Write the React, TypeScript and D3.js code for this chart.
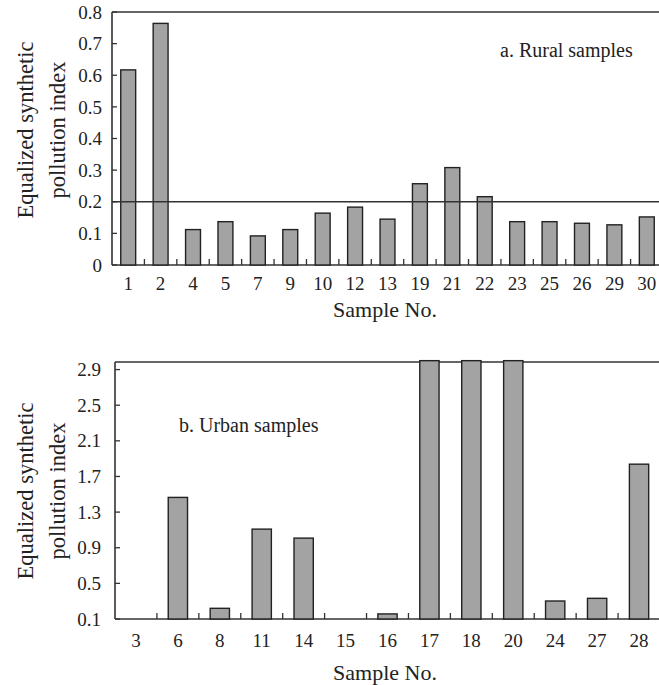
import React, { useEffect, useRef } from "react";
import * as d3 from "d3";

// a. rural samples
const ruralSamples = ["1", "2", "4", "5", "7", "9", "10", "12", "13", "19", "21", "22", "23", "25", "26", "29", "30"];
const ruralValues = [0.617, 0.764, 0.112, 0.137, 0.092, 0.112, 0.164, 0.183, 0.145, 0.257, 0.308, 0.216, 0.137, 0.137, 0.132, 0.127, 0.152];
const ruralTicks = [0, 0.1, 0.2, 0.3, 0.4, 0.5, 0.6, 0.7, 0.8];
const ruralLimit = 0.2;

// b. urban samples (17, 18, 20 run off the top of the scale)
const urbanSamples = ["3", "6", "8", "11", "14", "15", "16", "17", "18", "20", "24", "27", "28"];
const urbanValues = [0.1, 1.465, 0.22, 1.109, 1.008, 0.1, 0.157, 3.0, 3.0, 3.0, 0.302, 0.332, 1.838];
const urbanTicks = [0.1, 0.5, 0.9, 1.3, 1.7, 2.1, 2.5, 2.9];

const FONT = "'Liberation Serif', Tinos, 'Times New Roman', 'DejaVu Serif', serif";
const INK = "#222";

function BarPanel({
  samples,
  values,
  ticks,
  yDomain,
  box,
  limit,
  note,
  tickFormat,
  yLabelGap,
  xTickY,
  xTitleY,
  yTitleY,
}) {
  const gRef = useRef(null);

  useEffect(() => {
    const g = d3.select(gRef.current);
    g.selectAll("*").remove();

    const x = d3
      .scaleBand()
      .domain(samples)
      .range([box.left, box.right])
      .paddingInner(0.54)
      .paddingOuter(0.27);

    const y = d3
      .scaleLinear()
      .domain(yDomain)
      .range([box.bottom, box.top]);

    const rows = samples.map((s, i) => ({ s, v: values[i] }));

    // frame: top, left, bottom (drawn under the bars)
    const frame = [
      [box.left, box.top, box.right, box.top],
      [box.left, box.top, box.left, box.bottom],
      [box.left, box.bottom, box.right, box.bottom],
    ];
    g.selectAll("line.frame")
      .data(frame)
      .join("line")
      .attr("class", "frame")
      .attr("x1", (d) => d[0])
      .attr("y1", (d) => d[1])
      .attr("x2", (d) => d[2])
      .attr("y2", (d) => d[3])
      .attr("stroke", "#333")
      .attr("stroke-width", 1.6);

    // bars; the off-scale ones poke a few px over the frame, like the original
    const top = (d) => Math.max(y(d.v), box.top - 3);
    g.selectAll("rect.bar")
      .data(rows.filter((d) => box.bottom - y(d.v) > 0.5))
      .join("rect")
      .attr("class", "bar")
      .attr("x", (d) => x(d.s))
      .attr("y", top)
      .attr("width", x.bandwidth())
      .attr("height", (d) => box.bottom - top(d))
      .attr("fill", "#a3a3a3")
      .attr("stroke", INK)
      .attr("stroke-width", 1.4);

    // reference line, over the bars
    if (limit != null) {
      g.append("line")
        .attr("x1", box.left)
        .attr("x2", box.right)
        .attr("y1", y(limit))
        .attr("y2", y(limit))
        .attr("stroke", "#333")
        .attr("stroke-width", 1.3);
    }

    // y ticks (inward)
    g.selectAll("line.ytick")
      .data(ticks)
      .join("line")
      .attr("class", "ytick")
      .attr("x1", box.left)
      .attr("x2", box.left + 5)
      .attr("y1", (d) => y(d))
      .attr("y2", (d) => y(d))
      .attr("stroke", "#333")
      .attr("stroke-width", 1.3);

    g.selectAll("text.ylab")
      .data(ticks)
      .join("text")
      .attr("class", "ylab")
      .attr("x", box.left - yLabelGap)
      .attr("y", (d) => y(d))
      .attr("dy", "0.35em")
      .attr("text-anchor", "end")
      .style("font-family", FONT)
      .style("font-size", "19px")
      .attr("fill", INK)
      .text(tickFormat);

    // x ticks between categories (inward)
    g.selectAll("line.xtick")
      .data(d3.range(1, samples.length))
      .join("line")
      .attr("class", "xtick")
      .attr("x1", (i) => box.left + i * x.step())
      .attr("x2", (i) => box.left + i * x.step())
      .attr("y1", box.bottom)
      .attr("y2", box.bottom - 6)
      .attr("stroke", "#333")
      .attr("stroke-width", 1.3);

    g.selectAll("text.xlab")
      .data(samples)
      .join("text")
      .attr("class", "xlab")
      .attr("x", (d) => x(d) + x.bandwidth() / 2)
      .attr("y", xTickY)
      .attr("text-anchor", "middle")
      .style("font-family", FONT)
      .style("font-size", "19px")
      .attr("fill", INK)
      .text((d) => d);

    // axis titles
    g.append("text")
      .attr("x", 385)
      .attr("y", xTitleY)
      .attr("text-anchor", "middle")
      .style("font-family", FONT)
      .style("font-size", "22px")
      .attr("fill", INK)
      .text("Sample No.");

    const yTitle = g
      .append("text")
      .attr("transform", `translate(0, ${yTitleY}) rotate(-90)`)
      .attr("text-anchor", "middle")
      .style("font-family", FONT)
      .style("font-size", "22.5px")
      .attr("fill", INK);
    yTitle.append("tspan").attr("x", 0).attr("y", 33).text("Equalized synthetic");
    yTitle.append("tspan").attr("x", 0).attr("y", 65).text("pollution index");

    // panel note
    g.append("text")
      .attr("x", note.x)
      .attr("y", note.y)
      .style("font-family", FONT)
      .style("font-size", "20px")
      .attr("fill", INK)
      .text(note.text);
  }, [samples, values, ticks, yDomain, box, limit, note]);

  return <g ref={gRef} />;
}

export default function App() {
  return (
    <svg
      width={659}
      height={685}
      style={{ position: "absolute", left: 0, top: 0, background: "#fff" }}
    >
      <BarPanel
        samples={ruralSamples}
        values={ruralValues}
        ticks={ruralTicks}
        yDomain={[0, 0.8]}
        box={{ left: 112, right: 663, top: 12, bottom: 265 }}
        limit={ruralLimit}
        note={{ x: 500, y: 57, text: "a. Rural samples" }}
        tickFormat={(d) => (d === 0 ? "0" : d3.format(".1f")(d))}
        yLabelGap={10}
        xTickY={290}
        xTitleY={317}
        yTitleY={130}
      />
      <BarPanel
        samples={urbanSamples}
        values={urbanValues}
        ticks={urbanTicks}
        yDomain={[0.1, 2.985]}
        box={{ left: 115, right: 660, top: 362, bottom: 619 }}
        limit={null}
        note={{ x: 179, y: 432, text: "b. Urban samples" }}
        tickFormat={d3.format(".1f")}
        yLabelGap={14}
        xTickY={647}
        xTitleY={680}
        yTitleY={491}
      />
    </svg>
  );
}
